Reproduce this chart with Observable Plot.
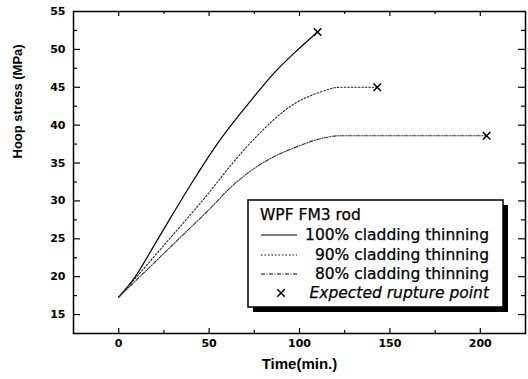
<!DOCTYPE html>
<html>
<head>
<meta charset="utf-8">
<script src="https://cdn.jsdelivr.net/npm/d3@7"></script>
<script src="https://cdn.jsdelivr.net/npm/@observablehq/plot@0.6"></script>
<style>
  html, body { margin: 0; padding: 0; background: #fff; }
  #chart { width: 528px; height: 379px; }
</style>
</head>
<body>
<div id="chart"></div>
<script>
// Series
const t100 = [0, 8, 21, 32, 41, 55, 75, 86, 97, 110];
const s100 = [17.3, 19.6, 24.7, 29.1, 32.6, 37.7, 43.8, 46.9, 49.5, 52.3];
const t90 = [0, 10, 27, 43, 50, 62, 77, 97, 112, 122, 143];
const s90 = [17.3, 20.0, 24.7, 29.1, 31.1, 34.7, 38.7, 42.8, 44.4, 45.0, 45.0];
const t80 = [0, 10, 32, 51, 62, 71, 84, 97, 110, 122, 203];
const s80 = [17.3, 19.6, 24.7, 29.1, 31.8, 33.6, 35.6, 37.0, 38.1, 38.6, 38.6];
const ruptureT = [110, 143, 203.5];
const ruptureS = [52.3, 45.0, 38.6];

const xMajor = [0, 50, 100, 150, 200];
const xMinor = [25, 75, 125, 175];
const yMajor = [15, 20, 25, 30, 35, 40, 45, 50];
const yMinor = [17.5, 22.5, 27.5, 32.5, 37.5, 42.5, 47.5, 52.5];

const legendTitle = "WPF FM3 rod";
const legendLabels = ["100% cladding thinning", "90% cladding thinning", "80% cladding thinning"];
const legendMarkerLabel = "Expected rupture point";

const toRows = (ts, ss) => ts.map((t, i) => ({t, s: ss[i]}));
const d100 = toRows(t100, s100);
const d90 = toRows(t90, s90);
const d80 = toRows(t80, s80);
const rupture = toRows(ruptureT, ruptureS);

const W = 528, H = 379, ML = 73, MR = 3, MT = 11, MB = 46;
const frameW = W - ML - MR, frameH = H - MT - MB;
const tickFont = {fontFamily: "DejaVu Sans", fontWeight: "bold", fontSize: 11, fill: "black"};
const tk = {stroke: "black", strokeWidth: 1.2};

const chart = Plot.plot({
  width: W,
  height: H,
  marginLeft: ML,
  marginRight: MR,
  marginTop: MT,
  marginBottom: MB,
  style: {fontFamily: "DejaVu Sans", background: "white", overflow: "visible"},
  x: {domain: [-25, 225]},
  y: {domain: [12.5, 55]},
  marks: [
    // inward ticks on all four sides
    Plot.tickX(xMajor, {x: d => d, insetTop: frameH - 5, ...tk}),
    Plot.tickX(xMinor, {x: d => d, insetTop: frameH - 3, ...tk}),
    Plot.tickX(xMajor, {x: d => d, insetBottom: frameH - 5, ...tk}),
    Plot.tickX(xMinor, {x: d => d, insetBottom: frameH - 3, ...tk}),
    Plot.tickY(yMajor, {y: d => d, insetRight: frameW - 7, ...tk}),
    Plot.tickY(yMinor, {y: d => d, insetRight: frameW - 4, ...tk}),
    Plot.tickY(yMajor, {y: d => d, insetLeft: frameW - 7, ...tk}),
    Plot.tickY(yMinor, {y: d => d, insetLeft: frameW - 4, ...tk}),
    // tick labels
    Plot.axisX(xMajor, {anchor: "bottom", tickSize: 0, tickPadding: 6, label: null, ...tickFont}),
    Plot.axisY([...yMajor, 55], {anchor: "left", tickSize: 0, tickPadding: 8, label: null, ...tickFont}),
    Plot.frame({stroke: "black", strokeWidth: 1.5}),
    // series
    Plot.line(d100, {x: "t", y: "s", stroke: "black", strokeWidth: 1.2, curve: "monotone-x"}),
    Plot.line(d90, {x: "t", y: "s", stroke: "#222", strokeWidth: 1.1, strokeDasharray: "1.5,2", curve: "monotone-x"}),
    Plot.line(d80, {x: "t", y: "s", stroke: "#333", strokeWidth: 1.1, strokeDasharray: "4,1.5,1,1.5", curve: "monotone-x"}),
    Plot.dot(rupture, {x: "t", y: "s", symbol: "times", r: 3.5, stroke: "black", strokeWidth: 1.5}),
    // axis titles
    Plot.text(["Time(min.)"], {frameAnchor: "bottom", dy: 35, text: d => d, fontFamily: "Liberation Sans", fontWeight: "bold", fontSize: 15, fill: "black"}),
    Plot.text(["Hoop stress (MPa)"], {frameAnchor: "left", dx: -56, dy: -14, rotate: -90, text: d => d, fontFamily: "Liberation Sans", fontWeight: "bold", fontSize: 13, fill: "black"})
  ]
});
document.getElementById("chart").appendChild(chart);

// Legend box drawn into the same SVG
const svg = d3.select(chart);
const lg = svg.append("g").attr("class", "legend");
const bx = 248, by = 200, bw = 255, bh = 107;
lg.append("rect").attr("x", bx + 5).attr("y", by + 5).attr("width", bw).attr("height", bh).attr("fill", "black");
lg.append("rect").attr("x", bx).attr("y", by).attr("width", bw).attr("height", bh)
  .attr("fill", "white").attr("stroke", "black").attr("stroke-width", 1.5);
const textStyle = sel => sel.attr("font-family", "DejaVu Sans").attr("font-size", 15.5).attr("fill", "black")
  .attr("stroke", "black").attr("stroke-width", 0.25).attr("dominant-baseline", "central");
textStyle(lg.append("text").attr("x", 260).attr("y", 215).attr("text-anchor", "start").text(legendTitle));
const rowY = [235, 255, 274];
const dashes = [null, "1.5,2", "4,1.5,1,1.5"];
legendLabels.forEach((lab, i) => {
  const ln = lg.append("line").attr("x1", 261).attr("x2", 297).attr("y1", rowY[i]).attr("y2", rowY[i])
    .attr("stroke", "black").attr("stroke-width", 1.1);
  if (dashes[i]) ln.attr("stroke-dasharray", dashes[i]);
  textStyle(lg.append("text").attr("x", 489).attr("y", rowY[i]).attr("text-anchor", "end").text(lab));
});
lg.append("path").attr("d", d3.symbol(d3.symbolTimes, 38)()).attr("transform", "translate(281,293)")
  .attr("fill", "none").attr("stroke", "black").attr("stroke-width", 1.5);
textStyle(lg.append("text").attr("x", 489).attr("y", 293).attr("text-anchor", "end").attr("font-style", "italic").text(legendMarkerLabel));
</script>
</body>
</html>
